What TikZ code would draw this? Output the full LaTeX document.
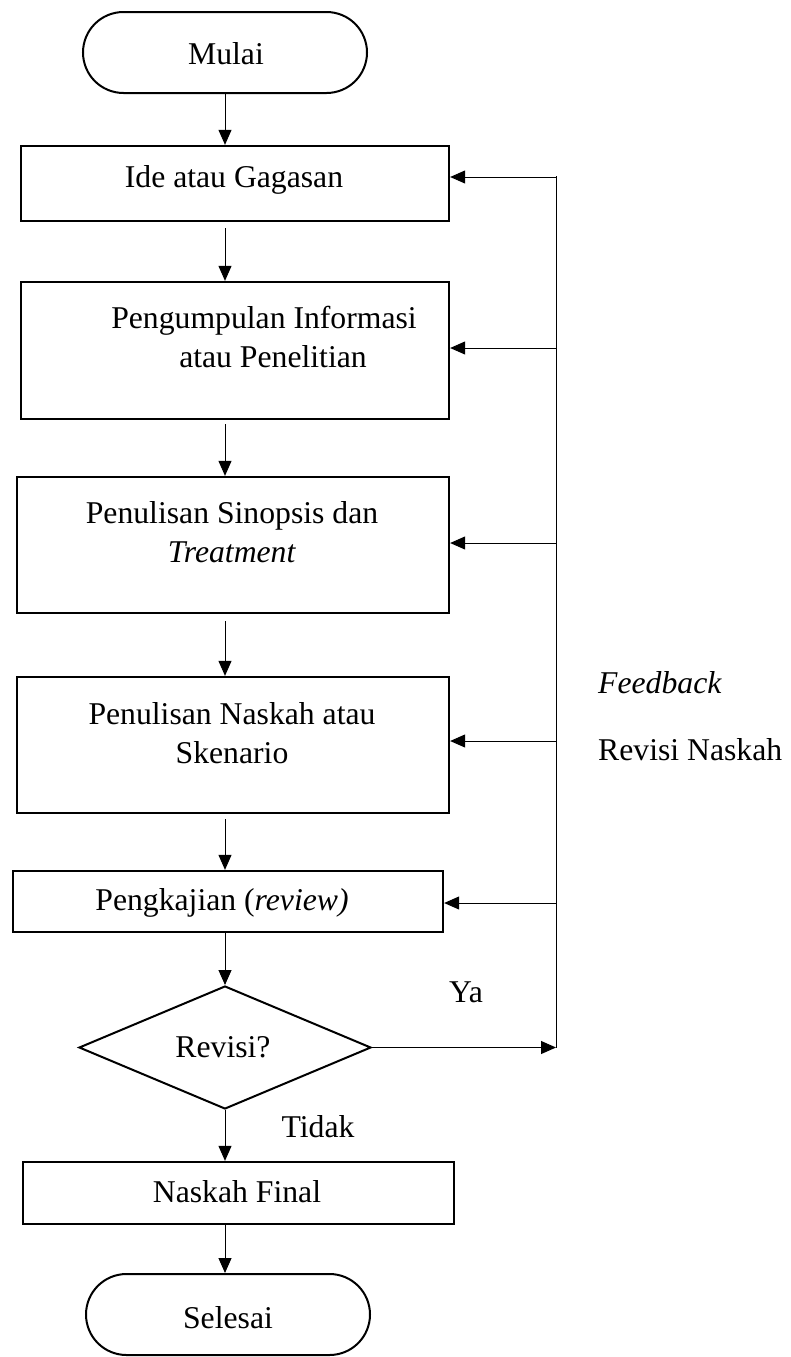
\documentclass[tikz,border=0pt]{standalone}
\usepackage{fontspec}
\setmainfont{Liberation Serif}
\usetikzlibrary{shapes.geometric,shapes.misc,arrows.meta}
\begin{document}
\begin{tikzpicture}[x=1pt,y=-1pt,
  procbox/.style={draw, rectangle, line width=2.3pt, inner sep=0pt},
  termbox/.style={draw, rounded rectangle, line width=2pt, inner sep=0pt,
                  minimum width=284pt, minimum height=81pt},
  decbox/.style={draw, diamond, line width=2pt, inner sep=0pt,
                 minimum width=292pt, minimum height=123pt},
  conn/.style={line width=1pt, -{Triangle[length=15pt,width=13pt]}},
  txt/.style={inner sep=0pt, font=\fontsize{31.7}{39}\selectfont,
              align=center, anchor=base},
]
\useasboundingbox (0,0) rectangle (791,1357);

% flow shapes
\node[termbox] (mulai) at (225,52.5) {};
\node[procbox, minimum width=428pt, minimum height=75pt]  (ide)   at (235,183.5) {};
\node[procbox, minimum width=428pt, minimum height=137pt] (info)  at (235,350.5) {};
\node[procbox, minimum width=432pt, minimum height=136pt] (sinop) at (233,545)   {};
\node[procbox, minimum width=432pt, minimum height=136pt] (naskah) at (233,745)  {};
\node[procbox, minimum width=430pt, minimum height=61pt]  (kaji)  at (228,901.5) {};
\node[decbox] (revisi) at (225,1047.5) {};
\node[procbox, minimum width=431pt, minimum height=62pt]  (final) at (238.5,1193) {};
\node[termbox] (selesai) at (228,1314.5) {};

% labels (two-line labels are placed at the baseline of their last line)
\node[txt] (t-mulai)  at (226,64)   {Mulai};
\node[txt] (t-ide)    at (234,187)  {Ide atau Gagasan};
\node[txt] (t-info)   at (264,367)  {Pengumpulan Informasi\\\hspace*{18pt}atau Penelitian};
\node[txt] (t-sinop)  at (232,562)  {Penulisan Sinopsis dan\\\textit{Treatment}};
\node[txt] (t-naskah) at (232,763)  {Penulisan Naskah atau\\Skenario};
\node[txt] (t-kaji)   at (222,910)  {Pengkajian (\textit{review)}};
\node[txt] (t-revisi) at (223,1057) {Revisi?};
\node[txt] (t-final)  at (237,1202) {Naskah Final};
\node[txt] (t-sel)    at (228,1328) {Selesai};
\node[txt, anchor=base west] (t-fb)  at (598,693) {\textit{Feedback}};
\node[txt, anchor=base west] (t-rn)  at (598,760) {Revisi Naskah};
\node[txt] (t-ya)    at (466,1002) {Ya};
\node[txt] (t-tidak) at (318,1137) {Tidak};

% main flow
\draw[conn] (mulai.south) -- (ide.north -| mulai);
\draw[conn, shorten <=6pt] (ide.south -| mulai) -- (info.north -| mulai);
\draw[conn, shorten <=4pt] (info.south -| mulai) -- (sinop.north -| mulai);
\draw[conn, shorten <=7pt] (sinop.south -| mulai) -- (naskah.north -| mulai);
\draw[conn, shorten <=5pt] (naskah.south -| mulai) -- (kaji.north -| mulai);
\draw[conn] (kaji.south -| mulai) -- (revisi.north);
\draw[conn] (revisi.south) -- (final.north -| revisi);
\draw[conn] (final.south -| mulai) -- (selesai.north -| mulai);

% feedback loop
\coordinate (fb-top) at (556,176);
\coordinate (fb-ide) at (556,177);
\coordinate (fb-info) at (556,348);
\coordinate (fb-sinop) at (556,543);
\coordinate (fb-naskah) at (556,741);
\coordinate (fb-kaji) at (556,903);
\coordinate (fb-bot) at (556,1047.5);
\draw[line width=1pt] (fb-top) -- (fb-bot);
\draw[conn] (revisi.east) -- (fb-bot);
\draw[conn] (fb-ide) -- (fb-ide -| ide.east);
\draw[conn] (fb-info) -- (fb-info -| info.east);
\draw[conn] (fb-sinop) -- (fb-sinop -| sinop.east);
\draw[conn] (fb-naskah) -- (fb-naskah -| naskah.east);
\draw[conn] (fb-kaji) -- (fb-kaji -| kaji.east);
\end{tikzpicture}
\end{document}
